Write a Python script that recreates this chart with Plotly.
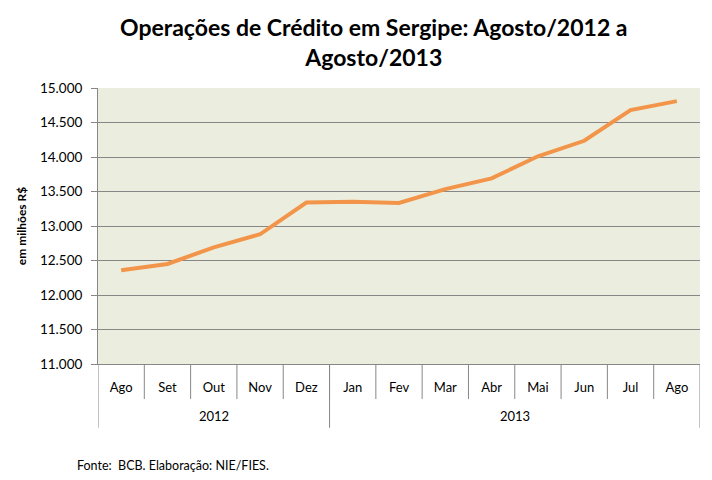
import plotly.graph_objects as go

# operações de crédito, em milhões R$
anos = ["2012"] * 5 + ["2013"] * 8
meses = ["Ago", "Set", "Out", "Nov", "Dez", "Jan", "Fev", "Mar", "Abr", "Mai", "Jun", "Jul", "Ago"]
valores = [12360, 12450, 12690, 12880, 13340, 13350, 13335, 13535, 13690, 14010, 14235, 14680, 14810]

y_ticks = [11000, 11500, 12000, 12500, 13000, 13500, 14000, 14500, 15000]

fonte = "Lato, 'Open Sans', sans-serif"
cinza = "#878787"

idx = list(range(len(meses)))

fig = go.Figure(
    go.Scatter(
        x=idx,
        y=valores,
        mode="lines",
        line=dict(color="#F2954A", width=4),
        hoverinfo="y",
    )
)

# a página tem 8px de margem no body
fig.update_layout(
    width=704,
    height=472,
    margin=dict(l=90, r=12, t=80, b=116),
    paper_bgcolor="white",
    plot_bgcolor="#EBEEDF",
    separators=",.",
    showlegend=False,
    font=dict(family=fonte, size=12, color="black"),
)

fig.update_yaxes(
    range=[11000, 15000],
    tickvals=y_ticks,
    tickformat=",.0f",
    showgrid=True,
    gridcolor=cinza,
    gridwidth=1,
    zeroline=False,
    showline=True,
    linecolor=cinza,
    ticks="outside",
    ticklen=6,
    tickcolor=cinza,
    ticklabelstandoff=6,
    tickfont=dict(size=13.5),
    title=dict(text="<b>em milhões R$</b>", font=dict(size=12), standoff=10),
    automargin=False,
)

fig.update_xaxes(
    range=[-0.5, len(meses) - 0.5],
    tickvals=idx,
    ticktext=meses,
    showgrid=False,
    zeroline=False,
    showline=True,
    linecolor=cinza,
    ticks="",
    ticklabelstandoff=11,
    tickfont=dict(size=13),
    automargin=False,
)

# caixas da linha dos meses (divisões entre categorias)
for i in idx[:-1]:
    fig.add_shape(
        type="line", xref="x", yref="paper",
        x0=i + 0.5, x1=i + 0.5, y0=0, y1=-0.127,
        line=dict(color=cinza, width=1),
    )

# divisões e rótulos dos anos
grupos = []
for i, a in enumerate(anos):
    if not grupos or grupos[-1][0] != a:
        grupos.append([a, i, i])
    else:
        grupos[-1][2] = i

for a, ini, fim in grupos:
    fig.add_shape(
        type="line", xref="x", yref="paper",
        x0=ini - 0.5, x1=ini - 0.5, y0=0, y1=-0.231,
        line=dict(color=cinza, width=1),
    )
    fig.add_annotation(
        text=a, xref="x", yref="paper",
        x=(ini + fim) / 2, y=-0.19,
        xanchor="center", yanchor="middle",
        showarrow=False, font=dict(size=13),
    )
fig.add_shape(
    type="line", xref="x", yref="paper",
    x0=grupos[-1][2] + 0.5, x1=grupos[-1][2] + 0.5, y0=0, y1=-0.231,
    line=dict(color=cinza, width=1),
)

fig.add_annotation(
    text="<b>Operações de Crédito em Sergipe: Agosto/2012 a<br>Agosto/2013</b>",
    xref="paper", yref="paper",
    x=0.458, y=1.055,
    xanchor="center", yanchor="bottom",
    showarrow=False,
    font=dict(family=fonte, size=23, color="black"),
)

fig.add_annotation(
    text="Fonte:  BCB. Elaboração: NIE/FIES.",
    xref="paper", yref="paper",
    x=-0.038, y=-0.369,
    xanchor="left", yanchor="middle",
    showarrow=False,
    font=dict(family=fonte, size=12.5),
)

fig.write_html("out.html")
